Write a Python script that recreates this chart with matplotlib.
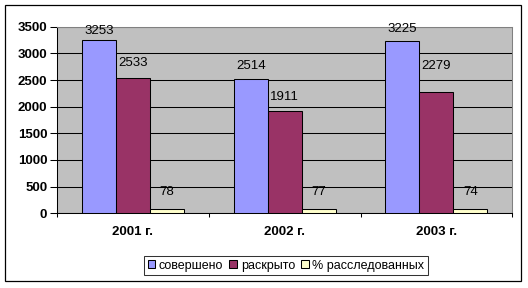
import matplotlib
matplotlib.use("Agg")
import matplotlib.pyplot as plt
from matplotlib.patches import Rectangle, Patch
import numpy as np

plt.rcParams['font.family'] = ['Liberation Sans', 'DejaVu Sans']

categories = ["2001 г.", "2002 г.", "2003 г."]
series_names = ["совершено", "раскрыто", "% расследованных"]
committed = [3253, 2514, 3225]
solved = [2533, 1911, 2279]
percent = [78, 77, 74]
y_ticks = [0, 500, 1000, 1500, 2000, 2500, 3000, 3500]

colors = ["#9999FF", "#993366", "#FFFFCC"]
# label offset above bar top in pixels (per series, per category)
label_offsets_px = [[9, 13.5, 12], [15, 14.5, 26], [17, 17, 17]]

DPI = 100
fig = plt.figure(figsize=(5.28, 2.88), dpi=DPI)
W, H = 528, 288
ax = fig.add_axes([57 / W, 1 - 213.3 / H, (512.3 - 57) / W, (213.3 - 26.7) / H])
ax.set_facecolor("#C0C0C0")

FS = 9.5
series = [committed, solved, percent]
bw = 0.224
x = np.arange(len(categories)) + 0.5
for i, vals in enumerate(series):
    xs = x + (i - 1) * bw
    ax.bar(xs, vals, width=bw, color=colors[i], edgecolor="black", linewidth=0.75, zorder=3)
    for j, v in enumerate(vals):
        ax.annotate(str(v), xy=(xs[j], v), xytext=(0, label_offsets_px[i][j] * 72 / DPI),
                    textcoords="offset points", ha="center", va="center", fontsize=FS,
                    color="black", zorder=4)

ax.set_xlim(0, len(categories))
ax.set_ylim(0, 3500)
ax.set_yticks(y_ticks)
ax.set_yticklabels([str(t) for t in y_ticks], fontsize=FS, fontweight="bold")
ax.yaxis.grid(True, color="black", linewidth=0.75, zorder=1)
ax.set_axisbelow(True)

ax.set_xticks(np.arange(len(categories) + 1))
ax.set_xticklabels([])
ax.set_xticks(x, minor=True)
ax.set_xticklabels(categories, minor=True, fontsize=FS, fontweight="bold")
ax.tick_params(axis="x", which="major", direction="out", length=3, width=0.75, color="black")
ax.tick_params(axis="x", which="minor", length=0, pad=9)
ax.tick_params(axis="y", direction="out", length=5, width=0.75, pad=2, color="black")

for s in ["left", "bottom"]:
    ax.spines[s].set_color("black")
    ax.spines[s].set_linewidth(0.75)
for s in ["top", "right"]:
    ax.spines[s].set_color("#808080")
    ax.spines[s].set_linewidth(0.75)

handles = [Patch(facecolor=c, edgecolor="black", linewidth=0.75) for c in colors]
leg = fig.legend(handles, series_names, loc="center", bbox_to_anchor=(286 / W, 1 - 265.5 / H),
                 ncol=3, fontsize=9, frameon=True, fancybox=False, handlelength=0.6,
                 handleheight=0.6, handletextpad=0.3, columnspacing=0.5, borderpad=0.3,
                 borderaxespad=0)
leg.get_frame().set_edgecolor("black")
leg.get_frame().set_linewidth(0.75)

fig.patches.append(Rectangle((5 / W, 1 - 281 / H), 516 / W, 276 / H, transform=fig.transFigure,
                             fill=False, edgecolor="black", linewidth=0.9, zorder=0))

fig.savefig("out.png", dpi=DPI, facecolor="white")
